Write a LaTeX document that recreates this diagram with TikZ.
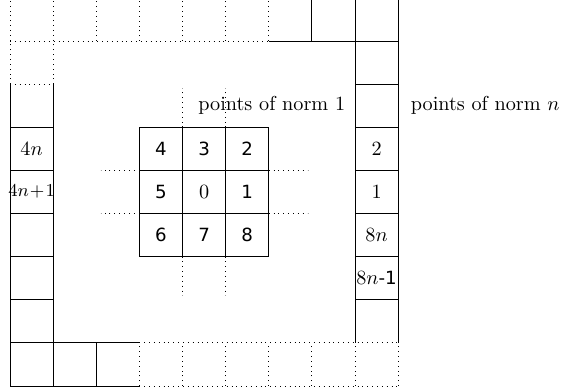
\documentclass[tikz,border=0pt]{standalone}
\usepackage{fontspec}
\newfontfamily\digitfont{DejaVu Sans}
\usetikzlibrary{positioning}
\tikzset{
  cell/.style={draw, minimum size=0.75cm, inner sep=0pt, outer sep=0pt, font=\small\digitfont},
  lbl/.style={inner sep=0pt},
  dotline/.style={dotted},
}
\begin{document}
\begin{tikzpicture}[x=0.75cm, y=0.75cm]
  \useasboundingbox (-0.232,-0.14) rectangle (12.80,8.95);
  % ring of norm n: solid part
  \draw (8,1) -- (8,9) (9,1) -- (9,9) (6,8) -- (9,8) (6,9) -- (9,9) (7,8) -- (7,9);
  \foreach \y in {2,...,7} \draw (8,\y) -- (9,\y);
  \draw (0,0) -- (0,7) (1,0) -- (1,7) (0,0) -- (3,0) (0,1) -- (3,1) (2,0) -- (2,1);
  \foreach \y in {2,...,6} \draw (0,\y) -- (1,\y);
  % ring of norm n: dotted part
  \draw[dotline] (0,8) -- (6,8) (0,7) -- (0,9) (1,7) -- (1,9) (0,7) -- (1,7);
  \foreach \x in {2,...,6} \draw[dotline] (\x,8) -- (\x,9);
  \draw[dotline] (3,0) -- (9,0) (3,1) -- (9,1);
  \foreach \x in {3,...,9} \draw[dotline] (\x,0) -- (\x,1);
  % labels on the ring
  \node[lbl] (r2) at (8.5,5.5) {$2$};
  \node[lbl] (r1) at (8.5,4.5) {$1$};
  \node[lbl] (r8n) at (8.5,3.5) {$8n$};
  \node[lbl] (r8m) at (8.5,2.5) {$8n${\small\digitfont -1}};
  \node[lbl] (l4n) at (0.5,5.5) {$4n$};
  \node[lbl] (l4p) at (0.5,4.5) {\small$4n\!+\!1$};
  % points of norm 1
  \node[cell, font=\normalfont] (n0) at (4.5,4.5) {$0$};
  \node[cell, right=0pt of n0] (n1) {1};
  \node[cell, above=0pt of n1] (n2) {2};
  \node[cell, above=0pt of n0] (n3) {3};
  \node[cell, left=0pt of n3] (n4) {4};
  \node[cell, left=0pt of n0] (n5) {5};
  \node[cell, below=0pt of n5] (n6) {6};
  \node[cell, below=0pt of n0] (n7) {7};
  \node[cell, right=0pt of n7] (n8) {8};
  \draw[dotline] (n3.north west) -- ++(0,0.9) (n3.north east) -- ++(0,0.9);
  \draw[dotline] (n7.south west) -- ++(0,-0.9) (n7.south east) -- ++(0,-0.9);
  \draw[dotline] (n5.north west) -- ++(-0.9,0) (n5.south west) -- ++(-0.9,0);
  \draw[dotline] (n1.north east) -- ++(0.9,0) (n1.south east) -- ++(0.9,0);
  % titles
  \node (norm1) at (6.07,6.5) {points of norm 1};
  \node (normn) at (11.02,6.5) {points of norm $n$};
\end{tikzpicture}
\end{document}
